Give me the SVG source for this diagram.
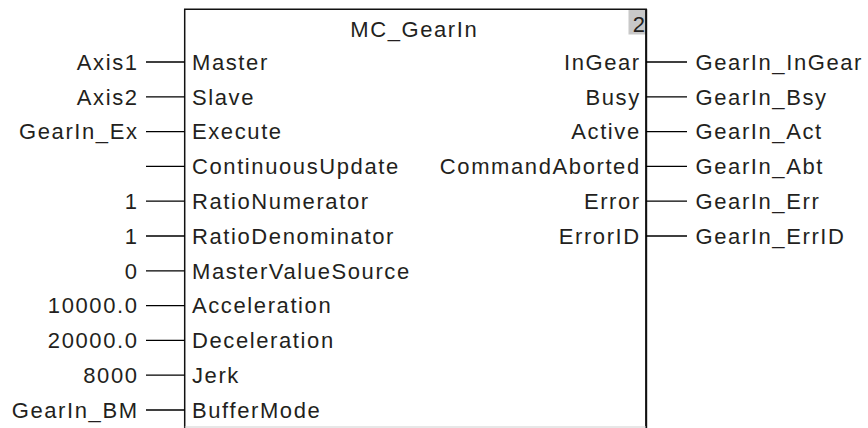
<svg xmlns="http://www.w3.org/2000/svg" width="868" height="428" viewBox="0 0 868 428">
<style>
text{font-family:"Liberation Sans",Arial,sans-serif;font-size:22px;fill:#231f20;letter-spacing:1.6px}
.r{text-anchor:end}
.c{text-anchor:middle}
.ln{stroke:#000;stroke-width:1.3;fill:none}
</style>
<rect width="868" height="428" fill="#fff"/>
<g id="block">
<rect x="628.5" y="9.5" width="17.5" height="25" fill="#c8c8c8"/>
<path d="M184.7,428 V9.3 H646.2 V428" fill="none" stroke="#111" stroke-width="1.5"/>
<path d="M646.2,9.3 V428" stroke="#111" stroke-width="2" fill="none"/>
<line x1="184.7" y1="427" x2="646" y2="427" stroke="#d0d0d0" stroke-width="1.2"/>
<text class="c" x="414.3" y="36.5">MC_GearIn</text>
<text class="r" x="645" y="32" style="letter-spacing:0">2</text>
<text x="192" y="69.8">Master</text>
<text x="192" y="104.6">Slave</text>
<text x="192" y="139.4">Execute</text>
<text x="192" y="174.2">ContinuousUpdate</text>
<text x="192" y="209">RatioNumerator</text>
<text x="192" y="243.8">RatioDenominator</text>
<text x="192" y="278.6">MasterValueSource</text>
<text x="192" y="313.4">Acceleration</text>
<text x="192" y="348.2">Deceleration</text>
<text x="192" y="383">Jerk</text>
<text x="192" y="417.8">BufferMode</text>
<text class="r" x="640.8" y="69.8">InGear</text>
<text class="r" x="640.8" y="104.6">Busy</text>
<text class="r" x="640.8" y="139.4">Active</text>
<text class="r" x="640.8" y="174.2">CommandAborted</text>
<text class="r" x="640.8" y="209">Error</text>
<text class="r" x="640.8" y="243.8">ErrorID</text>
</g>
<g id="inputs">
<text class="r" x="138.6" y="69.8">Axis1</text>
<text class="r" x="138.6" y="104.6">Axis2</text>
<text class="r" x="138.6" y="139.4">GearIn_Ex</text>
<text class="r" x="138.6" y="209">1</text>
<text class="r" x="138.6" y="243.8">1</text>
<text class="r" x="138.6" y="278.6">0</text>
<text class="r" x="138.6" y="313.4">10000.0</text>
<text class="r" x="138.6" y="348.2">20000.0</text>
<text class="r" x="138.6" y="383">8000</text>
<text class="r" x="138.6" y="417.8">GearIn_BM</text>
</g>
<g id="outputs">
<text x="695.5" y="69.8">GearIn_InGear</text>
<text x="695.5" y="104.6">GearIn_Bsy</text>
<text x="695.5" y="139.4">GearIn_Act</text>
<text x="695.5" y="174.2">GearIn_Abt</text>
<text x="695.5" y="209">GearIn_Err</text>
<text x="695.5" y="243.8">GearIn_ErrID</text>
</g>
<g id="connectors" class="ln">
<path d="M146,62H184.7M146,96.8H184.7M146,131.6H184.7M146,166.4H184.7M146,201.2H184.7M146,236H184.7M146,270.8H184.7M146,305.6H184.7M146,340.4H184.7M146,375.2H184.7M146,410H184.7"/>
<path d="M646,62H687M646,96.8H687M646,131.6H687M646,166.4H687M646,201.2H687M646,236H687"/>
</g>
</svg>
